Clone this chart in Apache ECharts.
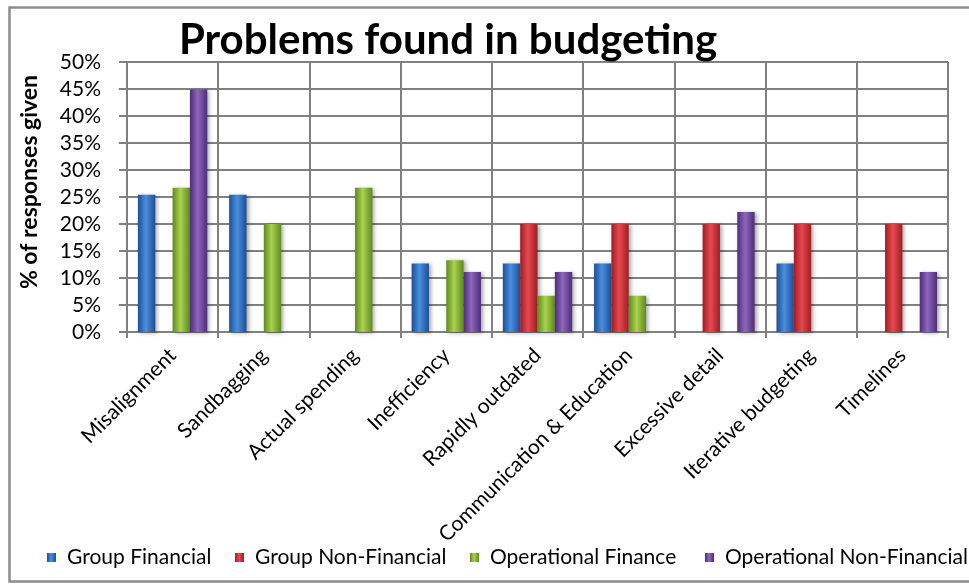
<!DOCTYPE html>
<html>
<head>
<meta charset="utf-8">
<script src="https://cdn.jsdelivr.net/npm/echarts@6/dist/echarts.min.js"></script>
<style>
  html, body { margin: 0; padding: 0; background: #fff; }
  #chart { width: 969px; height: 585px; }
</style>
</head>
<body>
<div id="chart"></div>
<script>
// Problem categories on the x axis
const categories = [
  'Misalignment', 'Sandbagging', 'Actual spending', 'Inefficiency',
  'Rapidly outdated', 'Communication & Education', 'Excessive detail',
  'Iterative budgeting', 'Timelines'
];

// Share of responses (%) per respondent group; null = no bar
const groupFinancial       = [25.4, 25.4, null, 12.7, 12.7, 12.7, null, 12.7, null];
const groupNonFinancial    = [null, null, null, null, 20, 20, 20, 20, 20];
const operationalFinance   = [26.7, 20, 26.7, 13.3, 6.7, 6.7, null, null, null];
const operationalNonFin    = [44.9, null, null, 11.1, 11.1, null, 22.2, null, 11.1];

const yTicks = { min: 0, max: 50, step: 5 };

const seriesDefs = [
  { name: 'Group Financial',           data: groupFinancial,     c: ['#1d4f94', '#4a8ee0', '#1d4f94'] },
  { name: 'Group Non-Financial',       data: groupNonFinancial,  c: ['#9e1e24', '#e8484f', '#9e1e24'] },
  { name: 'Operational Finance',       data: operationalFinance, c: ['#5f8a1e', '#a9d24e', '#5f8a1e'] },
  { name: 'Operational Non-Financial', data: operationalNonFin,  c: ['#4e2d78', '#8e66bd', '#4e2d78'] }
];

// legend item left offsets (px)
const legendLefts = [42, 230, 465, 700];

const font = 'Lato, "Liberation Sans", Arial, sans-serif';

function cylinder(c) {
  return {
    type: 'linear', x: 0, y: 0, x2: 1, y2: 0,
    colorStops: [
      { offset: 0, color: c[0] },
      { offset: 0.45, color: c[1] },
      { offset: 1, color: c[2] }
    ]
  };
}

const chart = echarts.init(document.getElementById('chart'));
chart.setOption({
  backgroundColor: '#fff',
  animation: false,
  title: {
    text: 'Problems found in budgeting',
    left: 443, top: 14, textAlign: 'center',
    textStyle: { fontFamily: font, fontWeight: 'bold', fontSize: 42, color: '#000' }
  },
  graphic: [{
    type: 'rect', left: 7, top: 5,
    shape: { width: 975, height: 574 },
    style: { fill: 'none', stroke: '#8c8c8c', lineWidth: 2.5 },
    silent: true
  }],
  legend: seriesDefs.map((s, i) => ({
    left: legendLefts[i], top: 542,
    itemWidth: 9, itemHeight: 9, itemGap: 0,
    icon: 'rect',
    itemStyle: { color: cylinder(s.c) },
    textStyle: { fontFamily: font, fontSize: 21, color: '#000', padding: [0, 0, 0, 6] },
    data: [s.name]
  })),
  grid: { left: 127, right: 21, top: 62, bottom: 253, containLabel: false },
  xAxis: {
    type: 'category',
    data: categories,
    boundaryGap: true,
    axisLine: { lineStyle: { color: '#808080', width: 2 } },
    axisTick: { show: true, length: 6, lineStyle: { color: '#808080', width: 2 } },
    splitLine: { show: true, lineStyle: { color: '#808080', width: 2 } },
    axisLabel: { rotate: 45, fontFamily: font, fontSize: 21, color: '#000', margin: 20, interval: 0 }
  },
  yAxis: {
    type: 'value',
    min: yTicks.min, max: yTicks.max, interval: yTicks.step,
    name: '% of responses given',
    nameLocation: 'middle', nameGap: 86, nameRotate: 90,
    nameTextStyle: { fontFamily: font, fontWeight: 'bold', fontSize: 23, color: '#000', padding: [0, 0, 0, 30] },
    axisLine: { show: true, lineStyle: { color: '#808080', width: 2 } },
    axisTick: { show: true, length: 8, lineStyle: { color: '#808080', width: 2 } },
    splitLine: { show: true, lineStyle: { color: '#808080', width: 2 } },
    axisLabel: { formatter: '{value}%', fontFamily: font, fontSize: 21, color: '#000', margin: 26 }
  },
  series: seriesDefs.map(s => ({
    name: s.name,
    type: 'bar',
    data: s.data,
    barGap: '0%',
    barCategoryGap: '24%',
    itemStyle: {
      color: cylinder(s.c),
      shadowColor: 'rgba(0,0,0,0.35)', shadowBlur: 4, shadowOffsetX: 2, shadowOffsetY: 1
    }
  }))
});
</script>
</body>
</html>
